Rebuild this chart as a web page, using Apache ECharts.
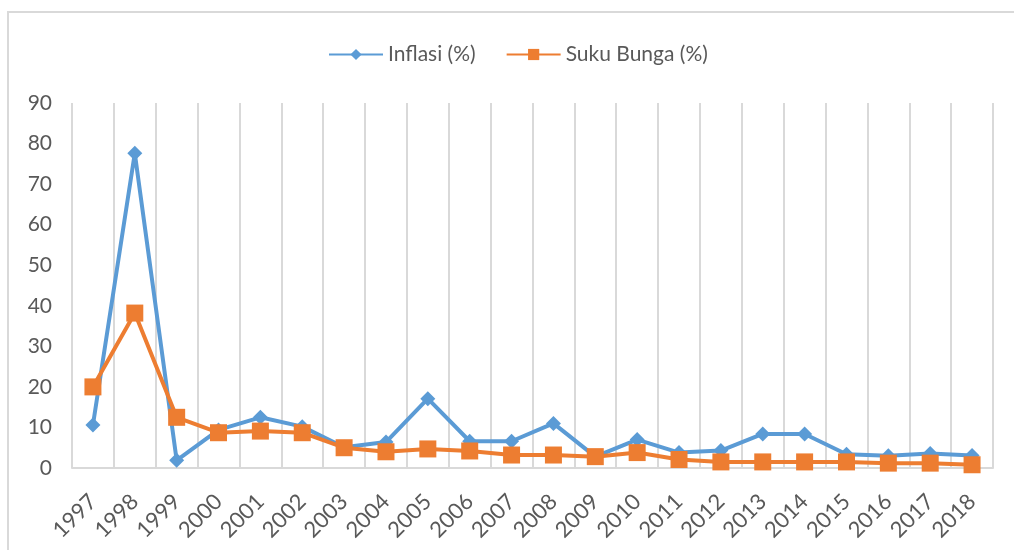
<!DOCTYPE html>
<html>
<head>
<meta charset="utf-8">
<script src="https://cdn.jsdelivr.net/npm/echarts@6/dist/echarts.min.js"></script>
<style>
html,body{margin:0;padding:0;background:#fff;}
#chart{width:1014px;height:550px;}
</style>
</head>
<body>
<div id="chart"></div>
<script>
const years = ['1997','1998','1999','2000','2001','2002','2003','2004','2005','2006','2007','2008','2009','2010','2011','2012','2013','2014','2015','2016','2017','2018'];
const inflasi = [10.6,77.6,1.9,9.4,12.5,10.2,5.1,6.4,17.1,6.6,6.6,11.0,2.8,7.0,3.8,4.3,8.4,8.4,3.4,3.0,3.6,3.1];
const sukuBunga = [20.0,38.2,12.5,8.7,9.1,8.7,5.0,4.0,4.7,4.2,3.2,3.2,2.8,3.8,2.1,1.5,1.5,1.5,1.5,1.2,1.2,0.8];
const yTicks = {min:0, max:90, interval:10};

const chart = echarts.init(document.getElementById('chart'));
const txt = '#595959';
const font = 'Lato';
chart.setOption({
  backgroundColor:'#fff',
  animation:false,
  graphic:[{type:'rect',shape:{x:8,y:12,width:1020,height:560},style:{fill:'none',stroke:'#D9D9D9',lineWidth:2}}],
  legend:{
    top:39, left:323,
    itemWidth:54, itemHeight:14, itemGap:30,
    textStyle:{color:txt,fontFamily:font,fontSize:21},
    data:['Inflasi (%)','Suku Bunga (%)']
  },
  grid:{left:72,right:21,top:103,bottom:82,containLabel:false},
  xAxis:{
    type:'category',data:years,boundaryGap:true,
    axisLine:{show:true,lineStyle:{color:'#D9D9D9',width:2}},
    axisTick:{show:false},
    splitLine:{show:true,lineStyle:{color:'#D9D9D9',width:2}},
    axisLabel:{rotate:45,margin:30,color:txt,fontFamily:font,fontSize:22,interval:0}
  },
  yAxis:{
    type:'value',min:yTicks.min,max:yTicks.max,interval:yTicks.interval,
    axisLine:{show:false},axisTick:{show:false},splitLine:{show:false},
    axisLabel:{margin:20,color:txt,fontFamily:font,fontSize:21}
  },
  series:[
    {name:'Inflasi (%)',type:'line',data:inflasi,symbol:'diamond',symbolSize:15,
     lineStyle:{color:'#5B9BD5',width:4},itemStyle:{color:'#5B9BD5'}},
    {name:'Suku Bunga (%)',type:'line',data:sukuBunga,symbol:'rect',symbolSize:17,
     lineStyle:{color:'#ED7D31',width:4},itemStyle:{color:'#ED7D31'}}
  ]
});
</script>
</body>
</html>
